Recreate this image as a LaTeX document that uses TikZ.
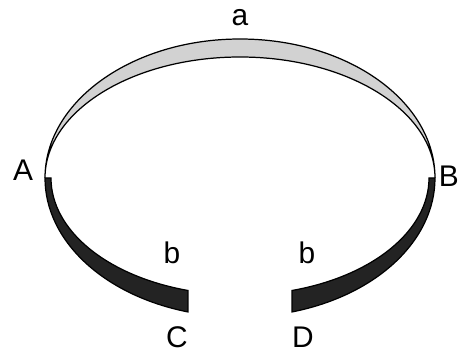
\documentclass[tikz,border=0pt]{standalone}
\usepackage{fontspec}
\setmainfont{Liberation Sans}
\usepackage{tikz}
\definecolor{lightband}{RGB}{210,210,210}
\definecolor{darkband}{RGB}{35,35,35}

\begin{document}
\begin{tikzpicture}[line width=0.7pt,every node/.style={font=\fontsize{17}{20}\selectfont,inner sep=0pt}]
        \useasboundingbox (0,0) rectangle (9.2,7.04);
        \coordinate (o) at (4.8,3.48);
        % upper band a
        \draw[fill=lightband] ([shift={(180:3.9cm and 2.78cm)}]o) arc[start angle=180,end angle=0,x radius=3.9cm,y radius=2.78cm]
            arc[start angle=0,end angle=180,x radius=3.9cm,y radius=2.42cm] -- cycle;
        % lower bands b
        \draw[fill=darkband] ([shift={(180:3.9cm and 2.78cm)}]o) arc[start angle=180,end angle=254.5,x radius=3.9cm,y radius=2.78cm]
            -- ([shift={(254:3.78cm and 2.34cm)}]o) arc[start angle=254,end angle=180,x radius=3.78cm,y radius=2.34cm] -- cycle;
        \draw[fill=darkband] ([shift={(0:3.9cm and 2.78cm)}]o) arc[start angle=0,end angle=-74.5,x radius=3.9cm,y radius=2.78cm]
            -- ([shift={(-74:3.78cm and 2.34cm)}]o) arc[start angle=-74,end angle=0,x radius=3.78cm,y radius=2.34cm] -- cycle;
        \node (la) at (4.8,6.68) {a};
        \node (pA) at (0.46,3.64) {A};
        \node[anchor=east] (pB) at (9.19,3.52) {B};
        \node (lb1) at (3.44,1.98) {b};
        \node (lb2) at (6.14,1.98) {b};
        \node (pC) at (3.54,0.30) {C};
        \node (pD) at (6.06,0.30) {D};
    \end{tikzpicture}
\end{document}
